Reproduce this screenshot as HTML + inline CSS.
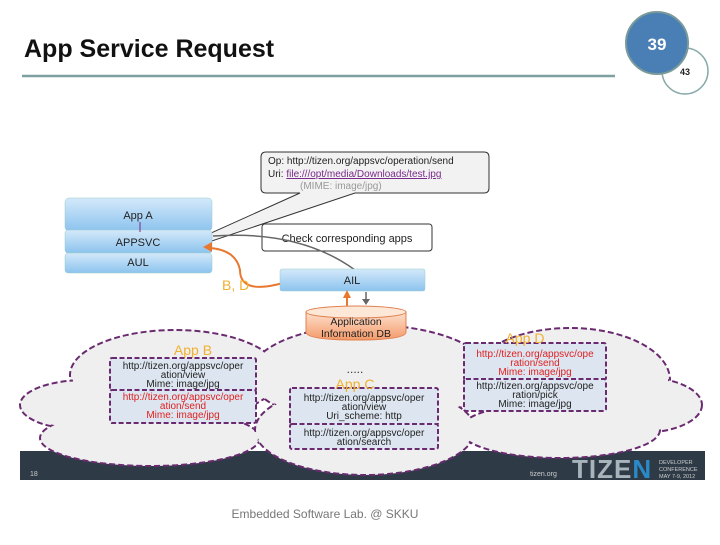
<!DOCTYPE html>
<html><head><style>
body{margin:0;width:720px;height:540px;background:#fff;overflow:hidden;font-family:"Liberation Sans",sans-serif}
</style></head><body>
<svg width="720" height="540" viewBox="0 0 720 540" xmlns="http://www.w3.org/2000/svg" font-family="Liberation Sans, sans-serif">
<defs>
<linearGradient id="bl" x1="0" y1="0" x2="0" y2="1"><stop offset="0" stop-color="#d4e9fa"/><stop offset="1" stop-color="#8cc3ee"/></linearGradient>
<linearGradient id="or" x1="0" y1="0" x2="0" y2="1"><stop offset="0" stop-color="#fde0cc"/><stop offset="1" stop-color="#f49a6a"/></linearGradient>
</defs>
<text x="24" y="57" font-size="25" font-weight="bold" fill="#111">App Service Request</text>
<line x1="22" y1="76" x2="615" y2="76" stroke="#7fa0a0" stroke-width="2.5"/>
<circle cx="685" cy="71" r="23" fill="#fff" stroke="#8aa" stroke-width="1.5"/>
<circle cx="657" cy="43" r="31" fill="#4a7fb5" stroke="#7a9a9a" stroke-width="2"/>
<text x="657" y="50" font-size="17" font-weight="bold" fill="#fff" text-anchor="middle">39</text>
<text x="685" y="75" font-size="9" font-weight="bold" fill="#222" text-anchor="middle">43</text>

<!-- bottom bar -->
<rect x="20" y="451" width="685" height="29" fill="#2e3b47"/>
<text x="30" y="476" font-size="7" fill="#ccc">18</text>
<text x="530" y="476" font-size="7" fill="#ccc">tizen.org</text>
<text x="572" y="478" font-size="26" font-weight="bold" fill="#a9b3bb" letter-spacing="1">TIZE<tspan fill="#2a8ac8">N</tspan></text>
<text x="659" y="464" font-size="5.5" fill="#ccc">DEVELOPER</text>
<text x="659" y="471" font-size="5.5" fill="#ccc">CONFERENCE</text>
<text x="659" y="478" font-size="5.5" fill="#ccc">MAY 7-9, 2012</text>
<text x="325" y="518" font-size="12" fill="#777" text-anchor="middle">Embedded Software Lab. @ SKKU</text>

<!-- cloud -->
<g fill="#efefef" stroke="#6a2a70" stroke-width="2" stroke-dasharray="6,3">
<ellipse cx="175" cy="375" rx="105" ry="45"/>
<ellipse cx="85" cy="405" rx="65" ry="25"/>
<ellipse cx="150" cy="438" rx="110" ry="28"/>
<ellipse cx="370" cy="375" rx="120" ry="50"/>
<ellipse cx="365" cy="430" rx="110" ry="45"/>
<ellipse cx="570" cy="380" rx="100" ry="52"/>
<ellipse cx="640" cy="405" rx="62" ry="28"/>
<ellipse cx="560" cy="430" rx="100" ry="28"/>
</g>
<g fill="#efefef">
<ellipse cx="175" cy="375" rx="103" ry="43"/>
<ellipse cx="85" cy="405" rx="63" ry="23"/>
<ellipse cx="150" cy="438" rx="108" ry="26"/>
<ellipse cx="370" cy="375" rx="118" ry="48"/>
<ellipse cx="365" cy="430" rx="108" ry="43"/>
<ellipse cx="570" cy="380" rx="98" ry="50"/>
<ellipse cx="640" cy="405" rx="60" ry="26"/>
<ellipse cx="560" cy="430" rx="98" ry="26"/>
</g>

<!-- callout -->
<path d="M266 152 H484 Q489 152 489 157 V188 Q489 193 484 193 H355 L140 265 L300 193 H266 Q261 193 261 188 V157 Q261 152 266 152Z" fill="#f2f2f2" stroke="#333" stroke-width="1"/>
<text x="268" y="164" font-size="10" fill="#222">Op: http://tizen.org/appsvc/operation/send</text>
<text x="268" y="177" font-size="10" fill="#222">Uri: <tspan fill="#7a2a8a" text-decoration="underline">file:///opt/media/Downloads/test.jpg</tspan></text>
<text x="300" y="189" font-size="10" fill="#999">(MIME: image/jpg)</text>

<!-- stack -->
<rect x="65" y="198" width="147" height="33" rx="4" fill="url(#bl)" stroke="#9cc" stroke-width="0.5"/>
<rect x="65" y="230" width="147" height="23" rx="3" fill="url(#bl)" stroke="#9cc" stroke-width="0.5"/>
<rect x="65" y="253" width="147" height="20" rx="3" fill="url(#bl)" stroke="#9cc" stroke-width="0.5"/>
<text x="138" y="219" font-size="11" fill="#222" text-anchor="middle">App A</text>
<text x="138" y="246" font-size="11" fill="#222" text-anchor="middle">APPSVC</text>
<text x="138" y="266" font-size="11" fill="#222" text-anchor="middle">AUL</text>
<line x1="140" y1="222" x2="140" y2="232" stroke="#7a2a8a" stroke-width="1"/>

<rect x="262" y="224" width="170" height="27" rx="3" fill="#fff" stroke="#333"/>
<text x="347" y="242" font-size="11" fill="#222" text-anchor="middle">Check corresponding apps</text>
<path d="M213 236 Q300 230 355 270" fill="none" stroke="#666" stroke-width="1.5"/>
<path d="M283 283 Q240 295 240 270 Q236 250 210 248" fill="none" stroke="#e87830" stroke-width="2"/>
<polygon points="203,247 212,242 212,252" fill="#e87830"/>
<text x="222" y="290" font-size="14" fill="#f0b030">B, D</text>

<rect x="280" y="269" width="145" height="22" rx="2" fill="url(#bl)" stroke="#9cc" stroke-width="0.5"/>
<text x="352" y="284" font-size="11" fill="#222" text-anchor="middle">AIL</text>
<line x1="347" y1="306" x2="347" y2="297" stroke="#e87830" stroke-width="2"/>
<polygon points="343,298 351,298 347,290" fill="#e87830"/>
<line x1="366" y1="292" x2="366" y2="300" stroke="#666" stroke-width="1.5"/>
<polygon points="362,299 370,299 366,305" fill="#666"/>

<path d="M306 312 V332 Q306 340 356 340 Q406 340 406 332 V312" fill="url(#or)" stroke="#e08050"/>
<ellipse cx="356" cy="312" rx="50" ry="6" fill="#fde8d8" stroke="#e08050"/>
<text x="356" y="325" font-size="10.5" fill="#222" text-anchor="middle">Application</text>
<text x="356" y="337" font-size="10.5" fill="#222" text-anchor="middle">Information DB</text>

<g font-size="10" text-anchor="middle">
<text x="193" y="355" font-size="14" fill="#f0b030">App B</text>
<g fill="#dde6f0" stroke="#6a2a70" stroke-width="2" stroke-dasharray="5,2.5">
<rect x="110" y="358" width="146" height="33" rx="2"/>
<rect x="110" y="390" width="146" height="33" rx="2"/>
<rect x="290" y="388" width="148" height="37" rx="2"/>
<rect x="290" y="424" width="148" height="25" rx="2"/>
<rect x="464" y="343" width="142" height="37" rx="2"/>
<rect x="464" y="379" width="142" height="32" rx="2"/>
</g>
<text x="183" y="369" fill="#222">http://tizen.org/appsvc/oper</text>
<text x="183" y="378" fill="#222">ation/view</text>
<text x="183" y="387" fill="#222">Mime: image/jpg</text>
<text x="183" y="400" fill="#e02020">http://tizen.org/appsvc/oper</text>
<text x="183" y="409" fill="#e02020">ation/send</text>
<text x="183" y="418" fill="#e02020">Mime: image/jpg</text>
<text x="355" y="373" font-size="12" fill="#333">.....</text>
<text x="355" y="389" font-size="14" fill="#f0b030">App C</text>
<text x="364" y="401" fill="#222">http://tizen.org/appsvc/oper</text>
<text x="364" y="410" fill="#222">ation/view</text>
<text x="364" y="419" fill="#222">Uri_scheme: http</text>
<text x="364" y="436" fill="#222">http://tizen.org/appsvc/oper</text>
<text x="364" y="445" fill="#222">ation/search</text>
<text x="525" y="343" font-size="14" fill="#f0b030">App D</text>
<text x="535" y="357" fill="#e02020">http://tizen.org/appsvc/ope</text>
<text x="535" y="366" fill="#e02020">ration/send</text>
<text x="535" y="375" fill="#e02020">Mime: image/jpg</text>
<text x="535" y="389" fill="#222">http://tizen.org/appsvc/ope</text>
<text x="535" y="398" fill="#222">ration/pick</text>
<text x="535" y="407" fill="#222">Mime: image/jpg</text>
</g>
</svg>
</body></html>
